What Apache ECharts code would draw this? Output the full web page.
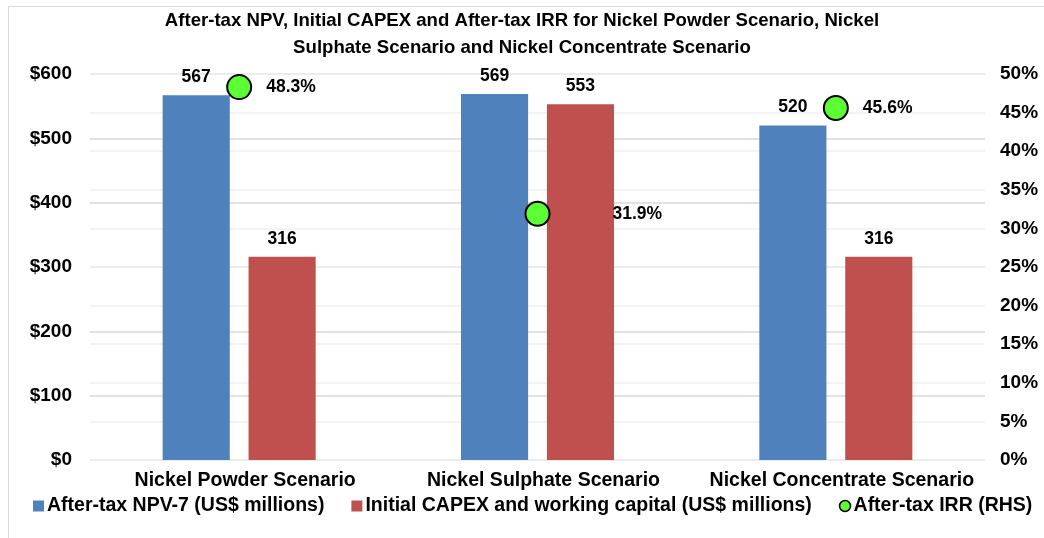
<!DOCTYPE html>
<html>
<head>
<meta charset="utf-8">
<script src="https://cdn.jsdelivr.net/npm/echarts@6/dist/echarts.min.js"></script>
<style>
  html, body { margin: 0; padding: 0; background: #fff; }
  #main { width: 1044px; height: 538px; }
</style>
</head>
<body>
<div id="main"></div>
<script>
var categories = ['Nickel Powder Scenario', 'Nickel Sulphate Scenario', 'Nickel Concentrate Scenario'];
var npvValues = [567, 569, 520];
var capexValues = [316, 553, 316];
var irrValues = [48.3, 31.9, 45.6];
var leftTicks = [0, 100, 200, 300, 400, 500, 600];
var rightTicks = [0, 5, 10, 15, 20, 25, 30, 35, 40, 45, 50];

var font = 'Liberation Sans, Arial, sans-serif';

var myChart = echarts.init(document.getElementById('main'));

var irrData = irrValues.map(function (v, i) {
    // the middle label sits further right so it clears the red bar
    var item = { value: v };
    if (i === 1) item.label = { offset: [48, 0] };
    return item;
});

myChart.setOption({
    animation: false,
    textStyle: { fontFamily: font },
    graphic: [{
        type: 'rect',
        shape: { x: 8.5, y: 6.5, width: 1100, height: 600 },
        style: { fill: 'none', stroke: '#d9d9d9', lineWidth: 1 },
        silent: true
    }],
    title: {
        text: 'After-tax NPV, Initial CAPEX and After-tax IRR for Nickel Powder Scenario, Nickel\nSulphate Scenario and Nickel Concentrate Scenario',
        left: 'center',
        top: 2,
        textStyle: {
            fontFamily: font,
            fontSize: 18.6,
            fontWeight: 'bold',
            color: '#000',
            lineHeight: 27
        }
    },
    legend: {
        bottom: 17,
        left: 28,
        itemGap: 27,
        itemWidth: 11,
        itemHeight: 11,
        textStyle: { fontFamily: font, fontSize: 19.5, fontWeight: 'bold', color: '#000', padding: [0, 0, 0, -2] },
        data: [
            { name: 'After-tax NPV-7 (US$ millions)', icon: 'rect' },
            { name: 'Initial CAPEX and working capital (US$ millions)', icon: 'rect' },
            { name: 'After-tax IRR (RHS)', icon: 'circle', itemStyle: { borderWidth: 1.5, borderColor: '#000' } }
        ]
    },
    grid: { left: 90, right: 59, top: 74, bottom: 78, containLabel: false },
    xAxis: {
        type: 'category',
        data: categories,
        axisLine: { show: false },
        axisTick: { show: false },
        axisLabel: { interval: 0, color: '#000', fontSize: 19.5, fontWeight: 'bold', margin: 11, padding: [0, 0, 0, 12] }
    },
    yAxis: [{
        type: 'value',
        min: leftTicks[0],
        max: leftTicks[leftTicks.length - 1],
        interval: 100,
        axisLine: { show: false },
        axisTick: { show: false },
        axisLabel: {
            color: '#000', fontSize: 19, fontWeight: 'bold', margin: 18,
            formatter: function (v) { return '$' + v; }
        },
        splitLine: { lineStyle: { color: '#d9d9d9', width: 1.5 } }
    }, {
        type: 'value',
        min: rightTicks[0],
        max: rightTicks[rightTicks.length - 1],
        interval: 5,
        axisLine: { show: false },
        axisTick: { show: false },
        axisLabel: {
            color: '#000', fontSize: 19, fontWeight: 'bold', margin: 15,
            formatter: function (v) { return v + '%'; }
        },
        splitLine: { lineStyle: { color: '#efefef', width: 1.5 } }
    }],
    series: [{
        name: 'After-tax NPV-7 (US$ millions)',
        type: 'bar',
        data: npvValues,
        barWidth: '22.5%',
        barGap: '28%',
        itemStyle: { color: '#4F81BD' },
        label: { show: true, position: 'top', distance: 9, color: '#000', fontSize: 17.5, fontWeight: 'bold' }
    }, {
        name: 'Initial CAPEX and working capital (US$ millions)',
        type: 'bar',
        data: capexValues,
        barWidth: '22.5%',
        itemStyle: { color: '#C0504D' },
        label: { show: true, position: 'top', distance: 9, color: '#000', fontSize: 17.5, fontWeight: 'bold' }
    }, {
        name: 'After-tax IRR (RHS)',
        type: 'scatter',
        yAxisIndex: 1,
        data: irrData,
        symbolSize: 24,
        itemStyle: { color: '#5CFF33', borderColor: '#000', borderWidth: 2, opacity: 1 },
        label: {
            show: true, position: 'right', distance: 14,
            color: '#000', fontSize: 17.5, fontWeight: 'bold',
            formatter: function (p) { return p.value.toFixed(1) + '%'; }
        },
        z: 5
    }]
});
</script>
</body>
</html>
